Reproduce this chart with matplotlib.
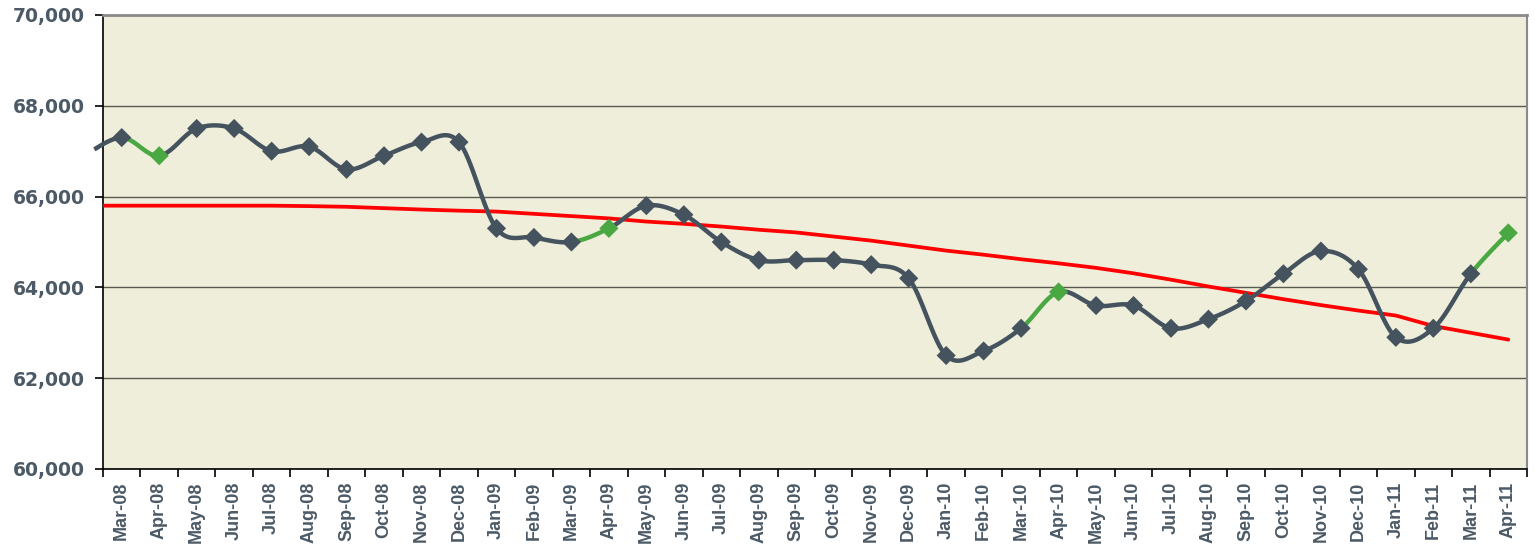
import numpy as np
import matplotlib.pyplot as plt

# monthly values, Mar-08 .. Apr-11
months = ['Mar-08', 'Apr-08', 'May-08', 'Jun-08', 'Jul-08', 'Aug-08', 'Sep-08', 'Oct-08',
          'Nov-08', 'Dec-08', 'Jan-09', 'Feb-09', 'Mar-09', 'Apr-09', 'May-09', 'Jun-09',
          'Jul-09', 'Aug-09', 'Sep-09', 'Oct-09', 'Nov-09', 'Dec-09', 'Jan-10', 'Feb-10',
          'Mar-10', 'Apr-10', 'May-10', 'Jun-10', 'Jul-10', 'Aug-10', 'Sep-10', 'Oct-10',
          'Nov-10', 'Dec-10', 'Jan-11', 'Feb-11', 'Mar-11', 'Apr-11']
values = [67300, 66900, 67500, 67500, 67000, 67100, 66600, 66900,
          67200, 67200, 65300, 65100, 65000, 65300, 65800, 65600,
          65000, 64600, 64600, 64600, 64500, 64200, 62500, 62600,
          63100, 63900, 63600, 63600, 63100, 63300, 63700, 64300,
          64800, 64400, 62900, 63100, 64300, 65200]
prev_value = 66900  # Feb-08, only the tail shows at the left edge
trend = [65800, 65800, 65800, 65800, 65800, 65790, 65775, 65745,
         65715, 65690, 65670, 65620, 65570, 65520, 65450, 65400,
         65340, 65270, 65210, 65120, 65030, 64920, 64810, 64720,
         64620, 64530, 64430, 64310, 64170, 64020, 63880, 63740,
         63610, 63490, 63380, 63150, 63000, 62850]
highlight = ['Apr-08', 'Apr-09', 'Apr-10', 'Apr-11']

DARK = '#45535f'
GREEN = '#4aa843'
BG = '#efeedb'
TXT = '#4b5a66'


def smooth(xs, ys, n=24):
    # excel-like smoothed line: cubic bezier, catmull-rom control points
    xs = np.asarray(xs, float)
    ys = np.asarray(ys, float)
    px = np.r_[xs[0], xs, xs[-1]]
    py = np.r_[ys[0], ys, ys[-1]]
    segs = []
    for i in range(len(xs) - 1):
        p0 = np.array([px[i], py[i]])
        p1 = np.array([px[i + 1], py[i + 1]])
        p2 = np.array([px[i + 2], py[i + 2]])
        p3 = np.array([px[i + 3], py[i + 3]])
        c1 = p1 + (p2 - p0) / 6
        c2 = p2 - (p3 - p1) / 6
        t = np.linspace(0, 1, n)[:, None]
        b = ((1 - t) ** 3) * p1 + 3 * ((1 - t) ** 2) * t * c1 + 3 * (1 - t) * t ** 2 * c2 + t ** 3 * p2
        segs.append(b)
    return segs


x = np.arange(len(months))
fig = plt.figure(figsize=(15.35, 5.47), dpi=100)
ax = fig.add_axes([0.0671, 0.1426, 0.9277, 0.830])
ax.set_facecolor(BG)

# trend line
ax.plot(np.r_[-0.5, x], np.r_[trend[0], trend], color='#ff0000', lw=2.7, zorder=3,
        solid_capstyle='round')

# smoothed series, with the Feb-08 lead-in
segs = smooth(np.r_[-1, x], np.r_[prev_value, values])
lead = segs[0]
lead = lead[lead[:, 0] >= -0.7]
ax.plot(lead[:, 0], lead[:, 1], color=DARK, lw=3.2, zorder=4, clip_on=False)
for i, s in enumerate(segs[1:]):
    col = GREEN if months[i + 1] in highlight else DARK
    ax.plot(s[:, 0], s[:, 1], color=col, lw=3.2, zorder=4, solid_capstyle='round')

mcol = [GREEN if m in highlight else DARK for m in months]
ax.scatter(x, values, marker='D', s=95, c=mcol, zorder=5, linewidths=0)

ax.set_xlim(-0.5, len(months) - 0.5)
ax.set_ylim(60000, 70000)
ax.set_yticks(np.arange(60000, 70001, 2000))
ax.set_yticklabels(['{:,}'.format(v) for v in range(60000, 70001, 2000)])
ax.set_xticks(x)
ax.set_xticklabels(months, rotation=90)
ax.set_xticks(np.arange(-0.5, len(months), 1), minor=True)
ax.tick_params(axis='x', which='major', length=0, pad=9)
ax.tick_params(axis='x', which='minor', length=6, width=1.2, color='black', direction='out')
ax.tick_params(axis='y', length=6, width=1.2, color='black', direction='out', pad=7)
for lab in ax.get_xticklabels():
    lab.set_fontsize(13)
    lab.set_fontweight('bold')
    lab.set_color(TXT)
    lab.set_family('Liberation Sans')
for lab in ax.get_yticklabels():
    lab.set_fontsize(13.5)
    lab.set_fontweight('bold')
    lab.set_color(TXT)
    lab.set_family('DejaVu Sans')

ax.grid(axis='y', color='#5a5a50', lw=1)
ax.set_axisbelow(True)
ax.spines['left'].set_color('black')
ax.spines['left'].set_linewidth(1.2)
ax.spines['bottom'].set_color('black')
ax.spines['bottom'].set_linewidth(1.2)
ax.spines['top'].set_color('#8a8a8a')
ax.spines['top'].set_linewidth(2)
ax.spines['right'].set_color('#8a8a8a')
ax.spines['right'].set_linewidth(1.5)

fig.savefig('out.png', dpi=100)
